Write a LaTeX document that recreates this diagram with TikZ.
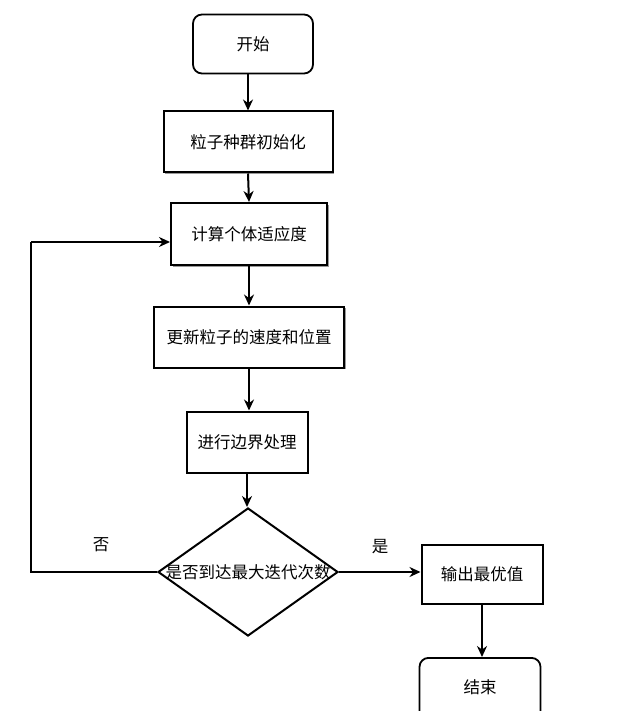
\documentclass[tikz,border=0pt]{standalone}
\usepackage{fontspec}
\newfontfamily\cjk{Noto Sans CJK SC}
\usetikzlibrary{shapes.geometric,arrows.meta,shadows}
\begin{document}
\begin{tikzpicture}[x=1pt,y=-1pt,
  every node/.style={font=\cjk\fontsize{16.5}{18}\selectfont},
  box/.style={draw, line width=2pt, fill=white, inner sep=0pt,
    drop shadow={shadow xshift=1.8pt, shadow yshift=-1.8pt, fill=black!40, opacity=1}},
  term/.style={draw, line width=1.8pt, fill=white, rounded corners=9pt, inner sep=0pt},
  arr/.style={line width=2pt, -{Stealth[length=11pt,width=10pt]}},
  ln/.style={line width=2pt}
]
\useasboundingbox (0,0) rectangle (628,711);
\node[term, minimum width=120pt, minimum height=59pt] (start) at (253,44) {开始};
\node[box, minimum width=169pt, minimum height=61pt] (init) at (248,142) {粒子种群初始化};
\node[box, minimum width=156pt, minimum height=62pt] (fit) at (249,234) {计算个体适应度};
\node[box, minimum width=190pt, minimum height=61pt] (upd) at (249,337) {更新粒子的速度和位置};
\node[box, minimum width=121pt, minimum height=61pt] (bnd) at (247,442) {进行边界处理};
\node[diamond, draw, line width=2pt, inner sep=0pt, minimum width=180pt, minimum height=128pt] (dec) at (248,572) {};
\node (dect) at (dec.center) {是否到达最大迭代次数};
\node[box, minimum width=121pt, minimum height=59pt] (out) at (482,574) {输出最优值};
\node[term, minimum width=121pt, minimum height=64pt, anchor=north] (end) at (480,657) {};
\node (endt) at (480,687) {结束};
\node (no) at (101,545) {否};
\node (yes) at (380,547) {是};

\draw[arr] (init.north |- start.south) -- (init.north);
\draw[arr] (init.south) -- (fit.north);
\draw[arr] (fit.south) -- (upd.north);
\draw[arr] (upd.south) -- (upd.south |- bnd.north);
\draw[arr] (bnd.south) -- (bnd.south |- dec.north);
\coordinate (lb) at (31,572);
\coordinate (lt) at (31,242);
\draw[ln] (dec.west) -- (lb) -- (lt);
\draw[arr] (lt) -- (lt -| fit.west);
\draw[arr] (dec.east) -- (dec.east -| out.west);
\draw[arr] (out.south) -- (out.south |- end.north);
\end{tikzpicture}
\end{document}
